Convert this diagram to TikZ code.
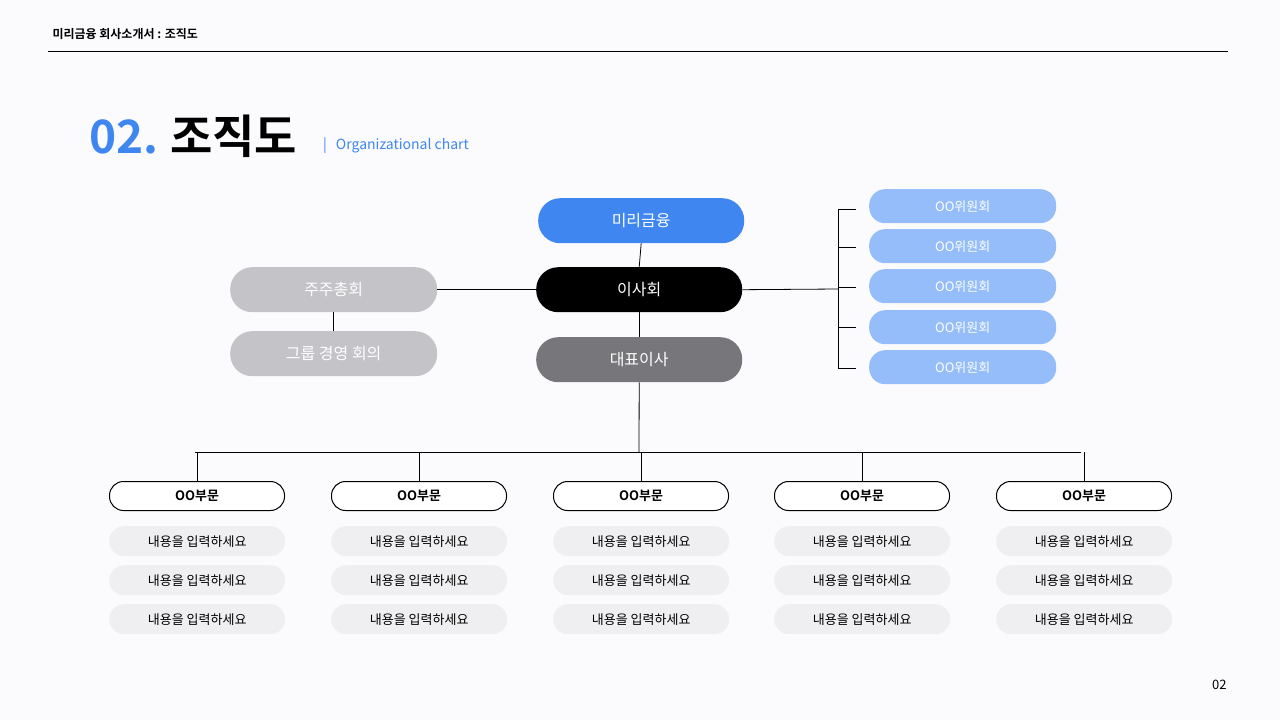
\documentclass[tikz,border=0pt]{standalone}
\usepackage{fontspec}
\setmainfont{Noto Sans CJK KR}
\newfontfamily\kb{Noto Sans CJK KR Bold}
\definecolor{blu}{HTML}{3F86F0}
\definecolor{lblu}{HTML}{94BDF9}
\definecolor{gr}{HTML}{77767A}
\definecolor{lgr}{HTML}{C4C3C7}
\definecolor{cbox}{HTML}{EFEFF1}
\definecolor{bg}{HTML}{FBFBFD}
\tikzset{
 pill/.style={rounded corners=#1, inner sep=0pt, anchor=north west},
 mainbox/.style={pill=22pt, minimum width=206pt, minimum height=45pt, font=\fontsize{16}{18}\selectfont, text=white},
 com/.style={pill=16pt, fill=lblu, minimum width=187pt, minimum height=34pt, font=\fontsize{13}{15}\selectfont, text=white},
 dept/.style={pill=14pt, draw=black, line width=1pt, fill=white, minimum width=175pt, minimum height=29pt, font=\kb\fontsize{13}{15}\selectfont},
 cont/.style={pill=15pt, fill=cbox, minimum width=176pt, minimum height=30pt, font=\fontsize{13}{15}\selectfont},
 ln/.style={line width=0.8pt}
}
\begin{document}
\begin{tikzpicture}[x=1pt,y=-1pt]
\fill[bg] (0,0) rectangle (1280,720);
\useasboundingbox (0,0) rectangle (1280,720);
\node[anchor=west,font=\kb\fontsize{12}{14}\selectfont] (hdr) at (49,34) {미리금융 회사소개서 : 조직도};
\draw[line width=0.8pt] (48,51) -- (1228,51);
\node[anchor=base west,inner sep=0pt,font=\kb\fontsize{46}{50}\selectfont,text=blu] (num) at (89,153) {02.};
\node[anchor=base west,inner sep=0pt,font=\kb\fontsize{46}{50}\selectfont] (ttl) at (170,153) {조직도};
\node[anchor=west,inner sep=0pt,font=\fontsize{14}{16}\selectfont,text=blu] (sub) at (323,146) {|\hspace{9pt}Organizational chart};
\node[anchor=east,font=\fontsize{13}{15}\selectfont] (pg) at (1230,685) {02};

\node[mainbox,fill=blu] (mr) at (538,198) {미리금융};
\node[mainbox,fill=black] (is) at (536,267) {이사회};
\node[mainbox,fill=gr] (ce) at (536,337) {대표이사};
\node[mainbox,fill=lgr,minimum width=207pt] (jj) at (230,267) {주주총회};
\node[mainbox,fill=lgr,minimum width=207pt] (gm) at (230,331) {그룹 경영 회의};

\foreach \i/\y in {1/189,2/229,3/269,4/310,5/350}
  \node[com] (c\i) at (869,\y) {OO위원회};

\coordinate (hub) at (639,452);
\draw[ln] (mr.south) -- (is.north);
\draw[ln] (is.south) -- (ce.north);
\draw[ln] (ce.south) -- (hub);
\draw[ln] (jj.east) -- (is.west);
\draw[ln] (jj.south) -- (gm.north);
\coordinate (br) at (838,289);
\draw[ln] (is.east) -- (br);
\draw[ln] (856,209) -- (838,209) -- (838,368) -- (856,368);
\foreach \y in {247,287,327} \draw[ln] (838,\y) -- (856,\y);
\draw[ln] (195,452) -- (1081,452);

\foreach \i/\x in {1/109,2/331,3/553,4/774,5/996}{
  \node[dept] (d\i) at (\x,481) {OO부문};
  \draw[ln] (d\i.north |- hub) -- (d\i.north);
  \node[cont] (a\i) at (\x,526) {내용을 입력하세요};
  \node[cont] (b\i) at (\x,565) {내용을 입력하세요};
  \node[cont] (e\i) at (\x,604) {내용을 입력하세요};
}
\end{tikzpicture}
\end{document}
